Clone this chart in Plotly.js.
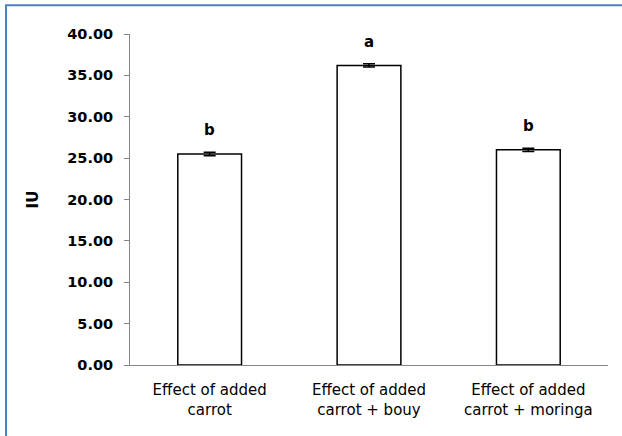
<!DOCTYPE html>
<html>
<head>
<meta charset="utf-8">
<script src="https://cdn.plot.ly/plotly-3.0.1.min.js"></script>
<style>html,body{margin:0;padding:0;background:#fff;}#chart{width:622px;height:436px;}</style>
</head>
<body>
<div id="chart"></div>
<script>
var categories = ["Effect of added<br>carrot", "Effect of added<br>carrot + bouy", "Effect of added<br>carrot + moringa"];
var values = [25.5, 36.2, 26.0];
var errors = [0.2, 0.2, 0.2];
var letters = ["b", "a", "b"];
var yTicks = [0, 5, 10, 15, 20, 25, 30, 35, 40];

var trace = {
  type: "bar",
  x: categories,
  y: values,
  marker: {color: "#ffffff", line: {color: "#000000", width: 1.5}},
  error_y: {type: "data", array: errors, visible: true, color: "#000000", thickness: 1.5, width: 6},
  hoverinfo: "none"
};

var annotations = categories.map(function (c, i) {
  return {
    x: c, y: values[i] + errors[i], xref: "x", yref: "y",
    text: "<b>" + letters[i] + "</b>", showarrow: false,
    yanchor: "bottom", yshift: 11,
    font: {family: "DejaVu Sans", size: 15, color: "#000"}
  };
});

var layout = {
  width: 622, height: 436,
  margin: {l: 130, r: 14, t: 34, b: 71},
  paper_bgcolor: "#ffffff", plot_bgcolor: "#ffffff",
  showlegend: false,
  bargap: 0.6,
  font: {family: "DejaVu Sans", color: "#000"},
  xaxis: {
    showline: true, linecolor: "#868686", linewidth: 1,
    ticks: "", showgrid: false, zeroline: false,
    tickfont: {family: "DejaVu Sans", size: 15, color: "#000"},
    ticklabelstandoff: 11
  },
  yaxis: {
    range: [0, 40], tickvals: yTicks,
    ticktext: yTicks.map(function (v) { return "<b>" + v.toFixed(2) + "</b>"; }),
    showline: true, linecolor: "#868686", linewidth: 1,
    ticks: "outside", ticklen: 5, tickcolor: "#868686",
    showgrid: false, zeroline: false,
    tickfont: {family: "DejaVu Sans", size: 14.5, color: "#000"},
    ticklabelstandoff: 8,
    title: {text: "<b>IU</b>", font: {family: "DejaVu Sans", size: 15, color: "#000"}, standoff: 24}
  },
  annotations: annotations,
  shapes: [{
    type: "rect", xref: "paper", yref: "paper",
    x0: -0.2594, x1: 2, y0: -1, y1: 1.0866,
    line: {color: "#4F81BD", width: 2}, fillcolor: "rgba(0,0,0,0)", layer: "above"
  }]
};

Plotly.newPlot("chart", [trace], layout, {staticPlot: true, displayModeBar: false});
</script>
</body>
</html>
